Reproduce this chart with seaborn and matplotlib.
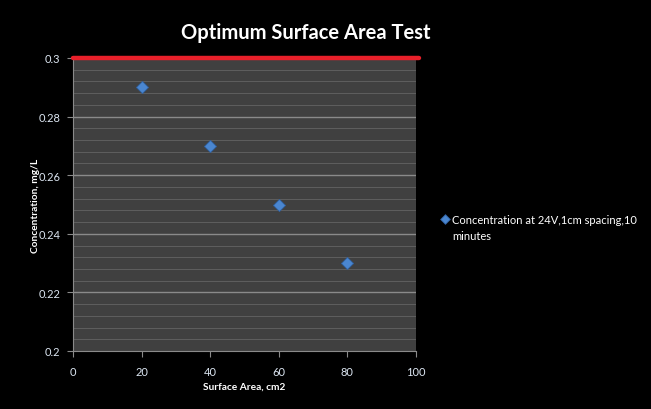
import matplotlib
matplotlib.use("Agg")
import matplotlib.pyplot as plt
import seaborn as sns
import pandas as pd
import numpy as np

surface_area = [20, 40, 60, 80]
concentration = [0.29, 0.27, 0.25, 0.23]
series_label = "Concentration at 24V,1cm spacing,10\nminutes"
x_ticks = [0, 20, 40, 60, 80, 100]
y_ticks = [0.2, 0.22, 0.24, 0.26, 0.28, 0.3]
y_tick_labels = ["0.2", "0.22", "0.24", "0.26", "0.28", "0.3"]

sns.set_style("dark")
plt.rcParams['font.family'] = ['Lato', 'DejaVu Sans']

df = pd.DataFrame({"x": surface_area, "y": concentration})

fig = plt.figure(figsize=(6.51, 4.10), dpi=100, facecolor="black")
ax = fig.add_axes([73/651, 1-352/410, (416-73)/651, (352-59)/410])
ax.set_facecolor("#404040")

# minor / major gridlines
for v in np.arange(0.2, 0.3001, 0.004):
    ax.axhline(v, color="#5e5e5e", lw=0.7, zorder=1)
for v in y_ticks[1:-1]:
    ax.axhline(v, color="#8a8a8a", lw=1.0, zorder=1)

ax.axhline(0.3, color="#e8202a", lw=3.2, zorder=3, clip_on=False, xmax=1.01,
           solid_capstyle="round")

sns.scatterplot(data=df, x="x", y="y", ax=ax, marker="D", s=38,
                color="#4a86d0", edgecolor="#2f5f9e", linewidth=0.6,
                label=series_label, zorder=4, legend=True)

ax.set_xlim(0, 100)
ax.set_ylim(0.2, 0.3)
ax.set_xticks(x_ticks)
ax.set_yticks(y_ticks)
ax.set_yticklabels(y_tick_labels)
ax.grid(False)
for s in ["top", "right"]:
    ax.spines[s].set_visible(False)
for s in ["left", "bottom"]:
    ax.spines[s].set_visible(True)
    ax.spines[s].set_color("#8a8a8a")
    ax.spines[s].set_linewidth(0.8)
ax.tick_params(axis="both", colors="#8a8a8a", labelcolor="#dce6f2",
               labelsize=8, length=4, width=0.8, direction="out",
               bottom=True, left=True)
ax.tick_params(axis="x", pad=7)
ax.tick_params(axis="y", pad=5)

ax.set_xlabel("Surface Area, cm2", color="white", fontsize=7.3, fontweight="bold", labelpad=3)
ax.set_ylabel("Concentration, mg/L", color="white", fontsize=7.3, fontweight="bold", labelpad=-1)

fig.text(306/651, 1-33/410, "Optimum Surface Area Test", color="white", fontsize=14.5,
         fontweight="bold", ha="center", va="center")

leg = ax.legend(loc="upper left", bbox_to_anchor=(441/651, 1-215/410),
                bbox_transform=fig.transFigure, frameon=False, fontsize=8,
                handletextpad=0.2, handlelength=0.8, borderaxespad=0, borderpad=0,
                markerscale=0.8)
for t in leg.get_texts():
    t.set_color("white")
    t.set_linespacing(1.6)
for col in leg._legend_handle_box.get_children():
    for entry in col.get_children():
        entry.align = "top"

fig.savefig("out.png", dpi=100, facecolor="black")
